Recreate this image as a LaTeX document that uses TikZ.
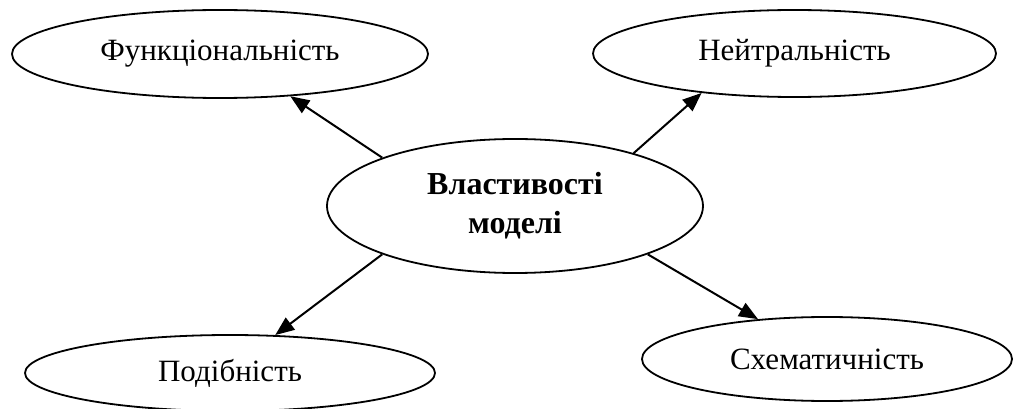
\documentclass[tikz,border=0pt]{standalone}
\usepackage{fontspec}
\setmainfont{Liberation Serif}
\usetikzlibrary{shapes.geometric,arrows.meta}
\begin{document}
\begin{tikzpicture}[x=1pt,y=-1pt,
  oval/.style={ellipse, draw, line width=1.8pt, inner sep=0pt, font=\fontsize{31}{37}\selectfont},
  link/.style={line width=2pt, -{Triangle[length=19pt,width=15pt]}}]
\useasboundingbox (0,0) rectangle (1013,409);
\clip (0,0) rectangle (1013,409);
\node[oval, minimum width=416pt, minimum height=88pt] (F) at (220,54) {Функціональність};
\node[oval, minimum width=403pt, minimum height=87pt] (N) at (794.5,53.5) {Нейтральність};
\node[oval, minimum width=410pt, minimum height=76pt] (P) at (230,373) {Подібність};
\node[oval, minimum width=370pt, minimum height=84pt] (S) at (827,359) {Схематичність};
\node[oval, minimum width=376pt, minimum height=134pt, align=center,
  font=\fontsize{32}{39}\selectfont\bfseries] (C) at (515,206) {Властивості\\моделі};
\draw[link] (C.160) -- (F.329);
\draw[link] (C.24) -- (N.203);
\draw[link] (C.200) -- (P.40);
\draw[link] (C.340) -- (S.150);
\end{tikzpicture}
\end{document}
